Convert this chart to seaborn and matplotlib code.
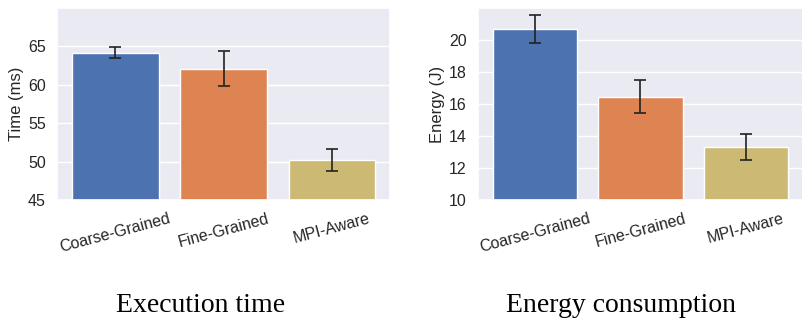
import matplotlib
matplotlib.use("Agg")
import matplotlib.pyplot as plt
import seaborn as sns
import pandas as pd

strategies = ["Coarse-Grained", "Fine-Grained", "MPI-Aware"]
time_ms = [64.2, 62.1, 50.2]
time_err = [0.75, 2.3, 1.4]
energy_j = [20.7, 16.45, 13.3]
energy_err = [0.87, 1.03, 0.8]

sns.set_theme(style="darkgrid")
plt.rcParams["font.family"] = ["Liberation Sans", "DejaVu Sans"]

palette = ["#4C72B0", "#DD8452", "#CCB974"]

fig = plt.figure(figsize=(8.03, 3.21), dpi=100)
ax1 = fig.add_axes([0.071, 0.377, 0.415, 0.598])
ax2 = fig.add_axes([0.595, 0.377, 0.405, 0.598])

panels = [
    (ax1, time_ms, time_err, "Time (ms)", (45, 70), [45, 50, 55, 60, 65], "Execution time", 0.25),
    (ax2, energy_j, energy_err, "Energy (J)", (10, 22), [10, 12, 14, 16, 18, 20], "Energy consumption", 0.773),
]

for ax, vals, errs, ylabel, ylim, yticks, caption, cx in panels:
    df = pd.DataFrame({"strategy": strategies, "value": vals})
    sns.barplot(data=df, x="strategy", y="value", hue="strategy", palette=palette,
                saturation=1, errorbar=None, legend=False, width=0.8,
                edgecolor="white", linewidth=1, ax=ax)
    ax.errorbar(range(len(vals)), vals, yerr=errs, fmt="none", ecolor="#222222",
                elinewidth=1.2, capsize=4, capthick=1.2)
    ax.set_ylim(*ylim)
    ax.set_yticks(yticks)
    ax.set_xlim(-0.54, 2.54)
    ax.set_xlabel("")
    ax.set_ylabel(ylabel, fontsize=12, color="#262626", labelpad=3)
    ax.tick_params(axis="y", labelsize=11.5, colors="#262626", pad=2)
    ax.tick_params(axis="x", labelsize=11.5, colors="#262626", pad=2)
    for lbl in ax.get_xticklabels():
        lbl.set_rotation(15)
        lbl.set_ha("center")
    fig.text(cx, 0.028, caption, ha="center", va="baseline",
             fontsize=20, family=["Liberation Serif", "DejaVu Serif"], color="black")

fig.savefig("out.png", dpi=100)
